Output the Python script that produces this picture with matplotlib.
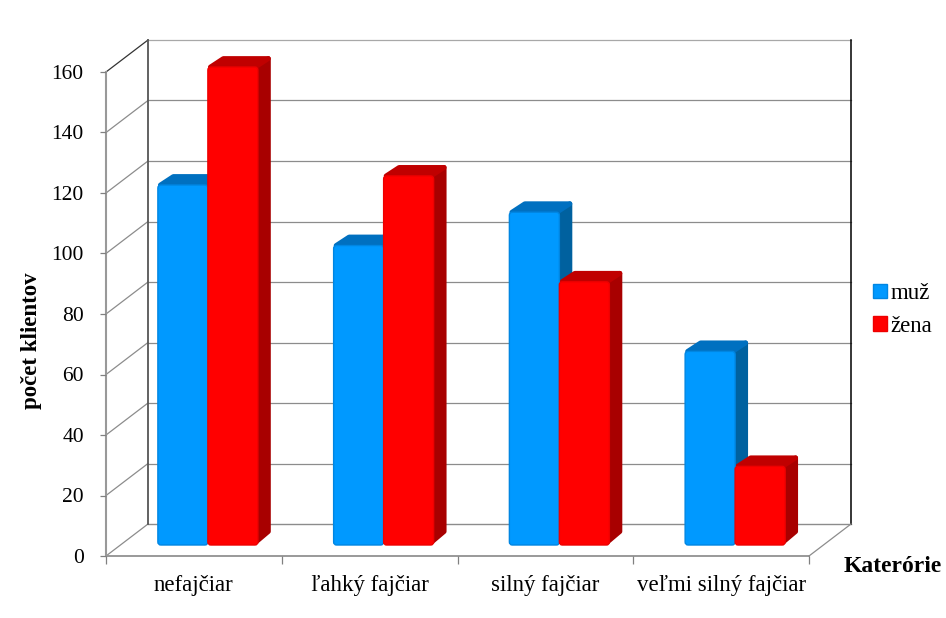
import numpy as np
import matplotlib
matplotlib.use('Agg')
import matplotlib.pyplot as plt
from matplotlib.patches import FancyBboxPatch, Polygon, Patch

categories = ['nefajčiar', 'ľahký fajčiar', 'silný fajčiar', 'veľmi silný fajčiar']
muz = [119, 99, 110, 64]
zena = [158, 122, 87, 26]
y_ticks = [0, 20, 40, 60, 80, 100, 120, 140, 160]

W, H = 946, 618
# front plane of the 3d box, in pixels
X0, X1 = 106, 809
Y0, Y1 = 556, 72

plt.rcParams['font.family'] = ['Liberation Serif', 'DejaVu Serif']

fig = plt.figure(figsize=(W / 100, H / 100), dpi=100)
ax = fig.add_axes([X0 / W, 1 - Y0 / H, (X1 - X0) / W, (Y0 - Y1) / H])
ax.set_xlim(0, 4)
ax.set_ylim(0, 160)

# pixels -> data units
px = 4 / (X1 - X0)
py = 160 / (Y0 - Y1)

# wall depth and bar offsets
wall_x, wall_y = 42 * px, 32 * py
base_x, base_y = 14 * px, 11 * py
dep_x, dep_y = 13 * px, 11 * py
bar_w = 50 * px

# walls
grid = '#8c8c8c'
for v in y_ticks:
    dark = v == 160
    ax.plot([0, wall_x], [v, v + wall_y], color='#333333' if dark else grid, lw=0.9, clip_on=False, zorder=1)
    if v > 0:
        ax.plot([wall_x, 4 + wall_x], [v + wall_y] * 2, color='#a8a8a8' if dark else grid, lw=0.9, clip_on=False, zorder=1)
ax.plot([wall_x, 4 + wall_x], [wall_y, wall_y], color='#8c8c8c', lw=1, clip_on=False, zorder=1)
ax.plot([0, 0], [0, 160], color='#999999', lw=1.5, clip_on=False, zorder=1)
ax.plot([wall_x, wall_x], [wall_y, 160 + wall_y], color='#555555', lw=1.3, clip_on=False, zorder=1)
ax.plot([4 + wall_x] * 2, [wall_y, 160 + wall_y], color='black', lw=1.1, clip_on=False, zorder=1)
ax.plot([0, 4], [0, 0], color='#999999', lw=1.4, clip_on=False, zorder=1)
ax.plot([4, 4 + wall_x], [0, wall_y], color='#8c8c8c', lw=0.9, clip_on=False, zorder=1)


def draw_bar(x, v, front, edge, top, side):
    b = base_y
    t = b + v
    inset_x, inset_y = 2.5 * px, 2.5 * py
    # side face
    ax.add_patch(Polygon([(x + bar_w - inset_x, b + inset_y), (x + bar_w + dep_x - inset_x, b + dep_y + inset_y),
                          (x + bar_w + dep_x - inset_x, t + dep_y - inset_y), (x + bar_w - inset_x, t - inset_y)],
                         closed=True, fc=side, ec=side, lw=3.5, joinstyle='round', zorder=3, clip_on=False))
    # top face
    ax.add_patch(Polygon([(x + inset_x, t), (x + bar_w - inset_x, t),
                          (x + bar_w + dep_x - inset_x, t + dep_y - inset_y), (x + dep_x + inset_x, t + dep_y - inset_y)],
                         closed=True, fc=top, ec=top, lw=3.5, joinstyle='round', zorder=4, clip_on=False))
    # front face with rounded corners
    ax.add_patch(FancyBboxPatch((x, b), bar_w, v, boxstyle='round,pad=0,rounding_size=%f' % (3 * px),
                                mutation_aspect=py / px, fc=front, ec=edge, lw=1, zorder=5, clip_on=False))


for i in range(4):
    left = i + base_x + 0.5 - bar_w
    draw_bar(left, muz[i], '#0099ff', '#0086e2', '#0070c0', '#00619f')
    draw_bar(left + bar_w, zena[i], '#ff0000', '#ee0000', '#c00000', '#a80000')

# axes and labels
for s in ax.spines.values():
    s.set_visible(False)
ax.patch.set_visible(False)
ax.set_yticks(y_ticks)
ax.set_xticks(range(5))
ax.set_xticklabels([])
ax.tick_params(axis='y', length=4.5, width=0.9, color='#808080', labelsize=15.5, pad=11.5)
ax.tick_params(axis='x', length=5.5, width=0.9, color='#808080')
for i, c in enumerate(categories):
    ax.text(i + 0.5, -9.8, c, ha='center', va='center', fontsize=16.5)
fig.text(31 / W, 1 - 341 / H, 'počet klientov', rotation=90, ha='center', va='center', fontsize=16.5, fontweight='bold')
fig.text(893 / W, 1 - 566 / H, 'Katerórie', ha='center', va='center', fontsize=17, fontweight='bold')

handles = [Patch(fc='#0099ff', ec='#0086e2', label='muž'), Patch(fc='#ff0000', ec='#ee0000', label='žena')]
fig.legend(handles=handles, loc='center left', bbox_to_anchor=(852 / W, 1 - 310 / H), frameon=False,
           fontsize=16.5, handlelength=0.62, handleheight=0.62, handletextpad=0.15, labelspacing=0.52)

fig.savefig('out.png', dpi=100)
